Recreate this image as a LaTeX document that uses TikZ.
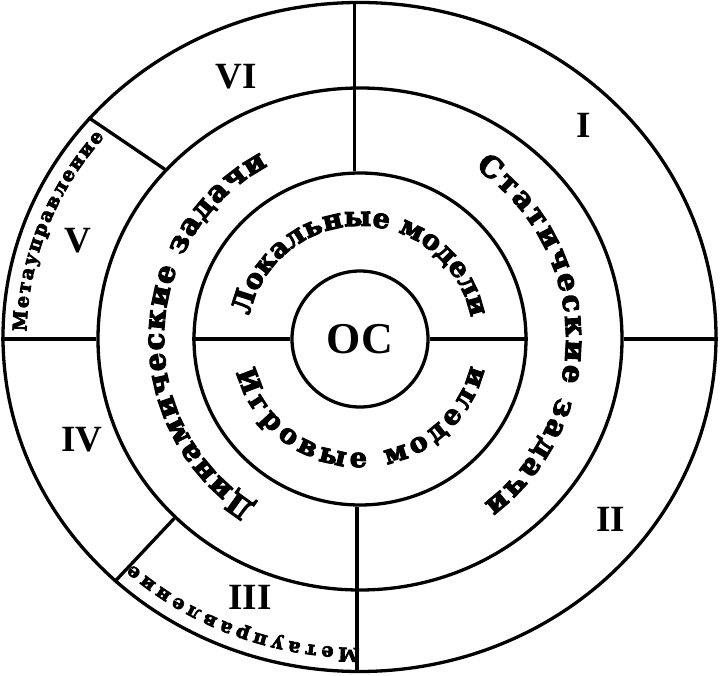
\documentclass[tikz,border=0pt]{standalone}
\usepackage{fontspec}
\setmainfont{Liberation Serif}
\newfontfamily\dugshrift{DejaVu Serif Bold}[FakeBold=4]
\usepackage{xcolor}
\usepackage{tikz}
\usetikzlibrary{shapes.geometric,decorations.text,calc}
\definecolor{cchern}{HTML}{000000}
\newcommand{\dugkrupno}{\dugshrift\fontsize{27}{27}\selectfont}
\newcommand{\dugsredne}{\dugshrift\fontsize{29}{29}\selectfont}
\newcommand{\dugmelko}{\dugshrift\fontsize{19}{19}\selectfont}
\tikzset{
  liniya/.style={line width=3.3pt, draw=cchern},
  krug/.style={circle, liniya, inner sep=0pt},
  oval/.style={ellipse, liniya, inner sep=0pt},
  nomer/.style={font=\fontsize{37}{37}\selectfont\bfseries, text=cchern},
  dugtext/.style={decorate, decoration={text along path, text align=fit to path, text={#1}}},
}

\begin{document}
\begin{tikzpicture}[x=1pt, y=1pt]
  \useasboundingbox (-360,-337) rectangle (360,339);
  \node[oval, minimum width=713pt, minimum height=669pt] (vnesh) at (-0.5,2) {};
  \node[oval, minimum width=524pt, minimum height=502pt] (kolco) at (0,0) {};
  \node[krug, minimum size=332pt] (zona) at (0,0) {};
  \node[krug, minimum size=136pt, font=\fontsize{44}{44}\selectfont\bfseries] (os) at (0,0) {ОС};
  \draw[liniya] (zona.92) -- (zona.92 |- vnesh.north);
  \draw[liniya] (zona.269) -- (zona.269 |- vnesh.south);
  \draw[liniya] (os.west) -- (zona.west);
  \draw[liniya] (os.east) -- (zona.east);
  \draw[liniya] (kolco.west) -- (kolco.west -| vnesh.west);
  \draw[liniya] (kolco.east) -- (kolco.east -| vnesh.east);
  \draw[liniya] (kolco.139) -- (vnesh.141);
  \draw[liniya] (kolco.224) -- (vnesh.225);
  \node[nomer] (n1) at (224,214) {I};
  \node[nomer] (n2) at (251,-180) {II};
  \node[nomer] (n3) at (-110,-258) {III};
  \node[nomer] (n4) at (-278,-101) {IV};
  \node[nomer] (n5) at (-282,98) {V};
  \node[nomer] (n6) at (-124,262) {VI};
  \path[dugtext={|\dugkrupno|Локальные модели}] (168:113) arc[start angle=168, end angle=11, radius=113];
  \path[dugtext={|\dugkrupno|Игровые модели}] (195:128) arc[start angle=195, end angle=346, radius=128];
  \path[dugtext={|\dugsredne|Статические задачи}] (56:206) arc[start angle=56, end angle=-53, radius=206];
  \path[dugtext={|\dugsredne|Динамические задачи}] (238:196) arc[start angle=238, end angle=118, radius=196];
  \path[dugtext={|\dugmelko|Метауправление}, shift={(-0.5,2)}] (179:333 and 311) arc[start angle=179, end angle=140, x radius=333, y radius=311];
  \path[dugtext={|\dugmelko|Метауправление}, shift={(-0.5,2)}] (270:333 and 311) arc[start angle=270, end angle=227, x radius=333, y radius=311];
\end{tikzpicture}
\end{document}
